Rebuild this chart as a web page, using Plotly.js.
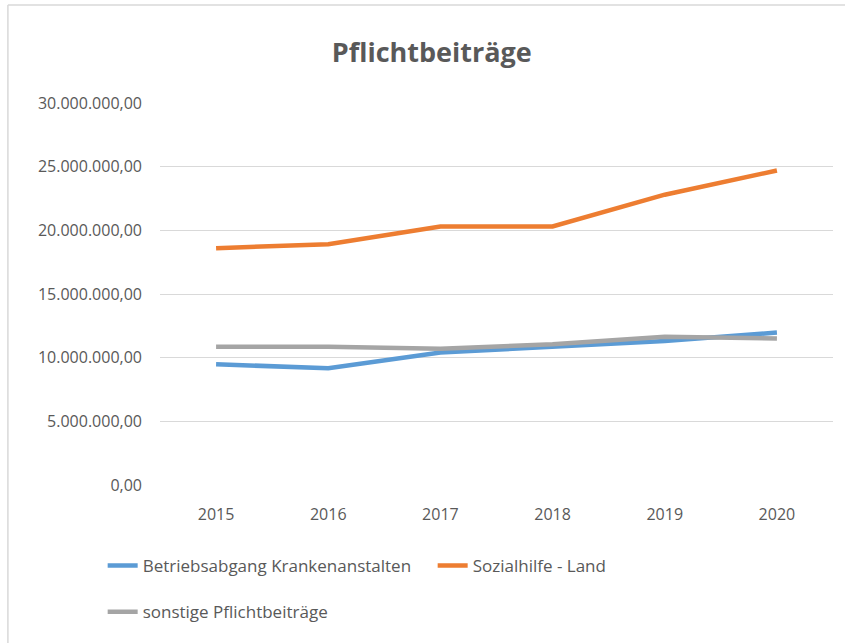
<!DOCTYPE html>
<html>
<head>
<meta charset="utf-8">
<script src="https://cdn.plot.ly/plotly-3.0.1.min.js"></script>
<style>
html,body{margin:0;padding:0;background:#fff;}
#chart{width:845px;height:643px;}
</style>
</head>
<body>
<div id="chart"></div>
<script>
const years = ['2015','2016','2017','2018','2019','2020'];
const betriebsabgang = [9480000, 9170000, 10400000, 10860000, 11300000, 11970000];
const sozialhilfe = [18600000, 18900000, 20300000, 20300000, 22800000, 24700000];
const sonstige = [10860000, 10860000, 10700000, 11050000, 11650000, 11500000];
const seriesNames = ['Betriebsabgang Krankenanstalten', 'Sozialhilfe - Land', 'sonstige Pflichtbeiträge'];
const yTicks = [0, 5000000, 10000000, 15000000, 20000000, 25000000, 30000000];

const FONT = 'Open Sans, Liberation Sans, sans-serif';
const traces = [
  {x: years, y: betriebsabgang, name: seriesNames[0], type: 'scatter', mode: 'lines',
   line: {color: '#5B9BD5', width: 4.5}, legend: 'legend'},
  {x: years, y: sozialhilfe, name: seriesNames[1], type: 'scatter', mode: 'lines',
   line: {color: '#ED7D31', width: 4.5}, legend: 'legend'},
  {x: years, y: sonstige, name: seriesNames[2], type: 'scatter', mode: 'lines',
   line: {color: '#A5A5A5', width: 4.5}, legend: 'legend2'}
];
const layout = {
  width: 845, height: 643,
  margin: {l: 160, r: 12, t: 103, b: 158},
  paper_bgcolor: '#ffffff', plot_bgcolor: '#ffffff',
  separators: ',.',
  font: {family: FONT, color: '#595959', size: 16},
  title: {text: '<b>Pflichtbeiträge</b>', x: 0.511, xref: 'container', xanchor: 'center',
          y: 0.919, yref: 'container', yanchor: 'middle',
          font: {family: FONT, size: 27, color: '#595959'}},
  xaxis: {type: 'category', range: [-0.5, 5.5], showgrid: false, zeroline: false,
          showline: false, ticks: '', ticklabelstandoff: 18,
          tickfont: {family: FONT, size: 16, color: '#595959'}},
  yaxis: {range: [0, 30000000], tickvals: yTicks, tickformat: ',.2f',
          showgrid: true, gridcolor: '#D9D9D9', gridwidth: 1, zeroline: false,
          showline: false, ticks: '', ticklabelstandoff: 17,
          tickfont: {family: FONT, size: 16, color: '#595959'}},
  showlegend: true,
  legend: {orientation: 'h', xref: 'container', yref: 'container', x: 0.1215, y: 0.148,
           xanchor: 'left', yanchor: 'top', font: {family: FONT, size: 17, color: '#595959'},
           bgcolor: 'rgba(0,0,0,0)', itemwidth: 30, entrywidth: 285},
  legend2: {orientation: 'h', xref: 'container', yref: 'container', x: 0.1215, y: 0.076,
           xanchor: 'left', yanchor: 'top', font: {family: FONT, size: 17, color: '#595959'},
           bgcolor: 'rgba(0,0,0,0)', itemwidth: 30},
  shapes: [
    {type: 'line', xref: 'paper', yref: 'paper', x0: -0.226, x1: 1.03, y0: 1.2565, y1: 1.2565,
     line: {color: '#D9D9D9', width: 1.5}},
    {type: 'line', xref: 'paper', yref: 'paper', x0: -0.226, x1: -0.226, y0: 1.2565, y1: -0.45,
     line: {color: '#D9D9D9', width: 1.5}}
  ]
};
Plotly.newPlot('chart', traces, layout, {displayModeBar: false, staticPlot: true});
</script>
</body>
</html>
